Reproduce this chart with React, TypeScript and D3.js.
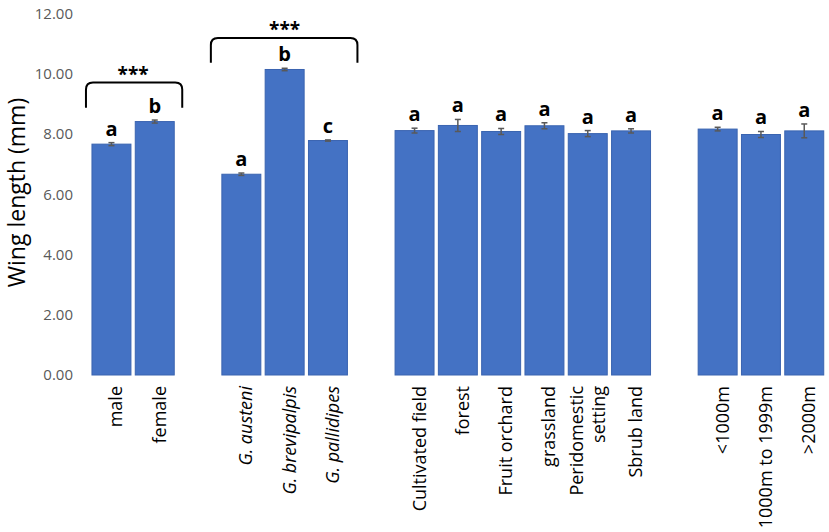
import React from "react";
import * as d3 from "d3";

const categories = [
  "male", "female", "gap1",
  "G. austeni", "G. brevipalpis", "G. pallidipes", "gap2",
  "Cultivated field", "forest", "Fruit orchard", "grassland", "Peridomestic setting", "Sbrub land", "gap3",
  "<1000m", "1000m to 1999m", ">2000m",
];
const barCats = [
  "male", "female",
  "G. austeni", "G. brevipalpis", "G. pallidipes",
  "Cultivated field", "forest", "Fruit orchard", "grassland", "Peridomestic setting", "Sbrub land",
  "<1000m", "1000m to 1999m", ">2000m",
];
const means = [7.67, 8.42, 6.67, 10.15, 7.79, 8.12, 8.29, 8.09, 8.28, 8.02, 8.11, 8.17, 7.99, 8.11];
const errors = [0.05, 0.05, 0.04, 0.04, 0.02, 0.08, 0.2, 0.1, 0.1, 0.1, 0.07, 0.06, 0.1, 0.23];
const letters = ["a", "b", "a", "b", "c", "a", "a", "a", "a", "a", "a", "a", "a", "a"];
const italicCats = ["G. austeni", "G. brevipalpis", "G. pallidipes"];
const labelLines: Record<string, string[]> = { "Peridomestic setting": ["Peridomestic", "setting"] };
const yTicks = [0, 2, 4, 6, 8, 10, 12];
const bracketFrom = ["male", "G. austeni"];
const bracketTo = ["female", "G. pallidipes"];
const bracketTop = [9.72, 11.2];
const bracketEnd = [8.88, 10.37];
const bracketText = ["***", "***"];

const W = 829;
const H = 532;
const FONT = "'Open Sans', 'Noto Sans', sans-serif";

export default function App() {
  const x = d3.scaleBand<string>().domain(categories).range([89.8, 825.9]).paddingInner(0.1).paddingOuter(0.05);
  const y = d3.scaleLinear().domain([0, 12]).range([375, 13.8]);
  const bw = x.bandwidth();
  const fmt = d3.format(".2f");

  const bracketPath = (i: number) => {
    const x0 = (x(bracketFrom[i]) as number) - (i === 0 ? 6 : 11);
    const x1 = (x(bracketTo[i]) as number) + bw + (i === 0 ? 8 : 10);
    const yt = y(bracketTop[i]);
    const yb = y(bracketEnd[i]);
    const r = 7;
    const p = d3.path();
    p.moveTo(x0, yb);
    p.lineTo(x0, yt + r);
    p.quadraticCurveTo(x0, yt, x0 + r, yt);
    p.lineTo(x1 - r, yt);
    p.quadraticCurveTo(x1, yt, x1, yt + r);
    p.lineTo(x1, yb);
    return p.toString();
  };

  return (
    <div style={{ position: "absolute", left: 0, top: 0 }}>
      <svg width={W} height={H} style={{ display: "block", background: "#fff" }}>
        {yTicks.map((t) => (
          <text key={t} x={73} y={y(t)} dy="0.35em" textAnchor="end" fontFamily={FONT} fontSize={15} fill="#595959">
            {fmt(t)}
          </text>
        ))}
        <text
          transform={`translate(25, ${192.5}) rotate(-90)`}
          textAnchor="middle"
          fontFamily={FONT}
          fontSize={23}
          fill="#000"
        >
          Wing length (mm)
        </text>
        {barCats.map((c, i) => {
          const bx = x(c) as number;
          const top = y(means[i]);
          const cx = bx + bw / 2;
          const eTop = y(means[i] + errors[i]);
          const eBot = y(means[i] - errors[i]);
          return (
            <g key={c}>
              <rect x={bx} y={top} width={bw} height={y(0) - top} fill="#4472C4" stroke="#3A64B0" strokeWidth={1} />
              <line x1={cx} x2={cx} y1={eTop} y2={eBot} stroke="#595959" strokeWidth={1.5} />
              <line x1={cx - 3} x2={cx + 3} y1={eTop} y2={eTop} stroke="#595959" strokeWidth={1.5} />
              <line x1={cx - 3} x2={cx + 3} y1={eBot} y2={eBot} stroke="#595959" strokeWidth={1.5} />
              <text x={cx} y={eTop - 7} textAnchor="middle" fontFamily={FONT} fontWeight="bold" fontSize={20} fill="#000">
                {letters[i]}
              </text>
            </g>
          );
        })}
        {barCats.map((c) => {
          const cx = (x(c) as number) + bw / 2;
          const lines = labelLines[c] || [c];
          const n = lines.length;
          return lines.map((ln, j) => {
            const off = n === 1 ? 11 : 6.5 + (j - (n - 1) / 2) * 22;
            return (
              <text
                key={c + j}
                transform={`translate(${cx + off}, 386) rotate(-90)`}
                textAnchor="end"
                fontFamily={FONT}
                fontSize={18}
                fontStyle={italicCats.includes(c) ? "italic" : "normal"}
                fill="#000"
              >
                {ln}
              </text>
            );
          });
        })}
        {bracketFrom.map((_, i) => {
          const x0 = (x(bracketFrom[i]) as number);
          const x1 = (x(bracketTo[i]) as number) + bw;
          return (
            <g key={i}>
              <path d={bracketPath(i)} fill="none" stroke="#000" strokeWidth={2} />
              <text x={(x0 + x1) / 2} y={y(bracketTop[i]) - 1.5} textAnchor="middle" fontFamily={FONT} fontWeight="bold" fontSize={19} fill="#000">
                {bracketText[i]}
              </text>
            </g>
          );
        })}
      </svg>
    </div>
  );
}
